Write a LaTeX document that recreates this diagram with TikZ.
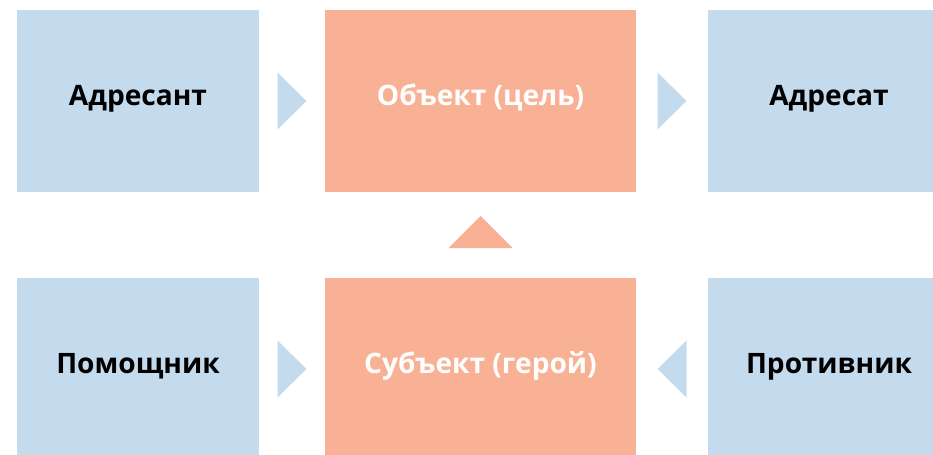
\documentclass[tikz,border=0pt]{standalone}
\usepackage{fontspec}
\setmainfont{Open Sans}
\usetikzlibrary{positioning,calc}
\definecolor{actblue}{HTML}{C4DBEE}
\definecolor{actorange}{HTML}{F8B194}

\begin{document}
\begin{tikzpicture}[x=0.03cm,y=-0.03cm,
    actorbox/.style={fill=actblue,minimum width=7.26cm,minimum height=5.46cm,
      inner sep=0pt,text height=17pt,text depth=10pt,text=black,
      font=\fontsize{24}{28}\selectfont\bfseries},
    corebox/.style={actorbox,fill=actorange,minimum width=9.33cm,text=white}]

  \useasboundingbox (0,0) rectangle (933,455);
  \clip (0,0) rectangle (933,455);

  % ---- top row ----------------------------------------------
  \node[actorbox] (sender) at (138,101) {Адресант};
  \node[corebox] (object) at (480.5,101) {Объект (цель)};
  \node[actorbox] (receiver) at (829,101) {Адресат};

  % ---- bottom row -------------------------------------------
  \node[actorbox] (helper) at (138,369) {Помощник};
  \node[corebox] (subject) at (480.5,369) {Субъект (герой)};
  \node[actorbox] (opponent) at (829,369) {Противник};

  % ---- pointers between the boxes ---------------------------
  \coordinate (p1) at ($(sender.east)!0.5!(object.west)$);
  \coordinate (p2) at ($(object.east)!0.5!(receiver.west)$);
  \coordinate (p3) at ($(helper.east)!0.5!(subject.west)$);
  \coordinate (p4) at ($(subject.east)!0.5!(opponent.west)$);
  \coordinate (p5) at ($(subject.north)!0.5!(object.south)$);

  \fill[actblue,shift={(p1)}] (-14.5,-28.5) -- (14.5,0) -- (-14.5,28.5) -- cycle;
  \fill[actblue,shift={(p2)}] (-14.5,-28.5) -- (14.5,0) -- (-14.5,28.5) -- cycle;
  \fill[actblue,shift={(p3)}] (-14.5,-28.5) -- (14.5,0) -- (-14.5,28.5) -- cycle;
  \fill[actblue,shift={(p4)}] (14.5,-28.5) -- (-14.5,0) -- (14.5,28.5) -- cycle;
  \fill[actorange,shift={(p5)}] (-32,13) -- (0,-19) -- (32,13) -- cycle;

\end{tikzpicture}
\end{document}
